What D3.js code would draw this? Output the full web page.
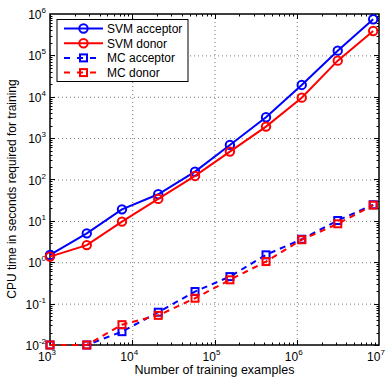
<!DOCTYPE html>
<html>
<head>
<meta charset="utf-8">
<script src="https://cdn.jsdelivr.net/npm/d3@7"></script>
<style>
  body { margin: 0; background: #fff; }
  svg text { font-family: "Liberation Sans", Arial, sans-serif; fill: #000; }
</style>
</head>
<body>
<div id="chart"></div>
<script>
// training set sizes
const trainSizes = [1000, 2800, 7500, 20700, 58000, 154000, 423000, 1150000, 3150000, 8500000];
// CPU seconds
const svmAcceptor = [1.5, 5.0, 19, 44, 155, 685, 3190, 19300, 130000, 745000];
const svmDonor = [1.37, 2.6, 9.6, 34, 122, 473, 1900, 9500, 74500, 389000];
const mcAcceptor = [0.01, 0.01, 0.021, 0.062, 0.196, 0.45, 1.51, 3.6, 10.2, 24.5];
const mcDonor = [0.01, 0.01, 0.031, 0.052, 0.135, 0.376, 1.04, 3.5, 8.5, 24];
const seriesNames = ["SVM acceptor", "SVM donor", "MC acceptor", "MC donor"];
const xTickExp = [3, 4, 5, 6, 7];
const yTickExp = [-2, -1, 0, 1, 2, 3, 4, 5, 6];

const width = 387, height = 380;
const margin = {top: 14, right: 8, bottom: 35, left: 50};

const svg = d3.select("#chart").append("svg")
  .attr("width", width)
  .attr("height", height);

const x = d3.scaleLog().domain([1e3, 1e7]).range([margin.left, width - margin.right]);
const y = d3.scaleLog().domain([1e-2, 1e6]).range([height - margin.bottom, margin.top]);

const x0 = x.range()[0], x1 = x.range()[1];
const y0 = y.range()[0], y1 = y.range()[1];

// grid lines (dotted)
const grid = svg.append("g").attr("stroke", "#777").attr("stroke-width", 1)
  .attr("stroke-dasharray", "1,3");
xTickExp.slice(1, -1).forEach(e => {
  grid.append("line").attr("x1", x(10 ** e) + 0.5).attr("x2", x(10 ** e) + 0.5)
    .attr("y1", y1).attr("y2", y0);
});
yTickExp.slice(1, -1).forEach(e => {
  grid.append("line").attr("y1", y(10 ** e) + 0.5).attr("y2", y(10 ** e) + 0.5)
    .attr("x1", x0).attr("x2", x1);
});

// minor + major ticks, inward on all four sides
const ticks = svg.append("g").attr("stroke", "#000").attr("stroke-width", 1);
const xMinor = [];
for (let e = 3; e < 7; e++) for (let m = 1; m < 10; m++) xMinor.push([m * 10 ** e, m === 1]);
const yMinor = [];
for (let e = -2; e < 6; e++) for (let m = 1; m < 10; m++) yMinor.push([m * 10 ** e, m === 1]);
xMinor.forEach(([v, major]) => {
  const len = major ? 5 : 2.5, px = Math.round(x(v)) + 0.5;
  ticks.append("line").attr("x1", px).attr("x2", px).attr("y1", y0).attr("y2", y0 - len);
  ticks.append("line").attr("x1", px).attr("x2", px).attr("y1", y1).attr("y2", y1 + len);
});
yMinor.forEach(([v, major]) => {
  const len = major ? 5 : 2.5, py = Math.round(y(v)) + 0.5;
  ticks.append("line").attr("y1", py).attr("y2", py).attr("x1", x0).attr("x2", x0 + len);
  ticks.append("line").attr("y1", py).attr("y2", py).attr("x1", x1).attr("x2", x1 - len);
});

// box
svg.append("rect").attr("x", x0).attr("y", y1).attr("width", x1 - x0).attr("height", y0 - y1)
  .attr("fill", "none").attr("stroke", "#000").attr("stroke-width", 1.5);

// tick labels
xTickExp.forEach(e => {
  const t = svg.append("text").attr("x", x(10 ** e) - 3).attr("y", y0 + 16)
    .attr("text-anchor", "middle").attr("font-size", 12);
  t.append("tspan").text("10");
  t.append("tspan").attr("dy", -6).attr("font-size", 8).text(e);
});
yTickExp.forEach(e => {
  const t = svg.append("text").attr("x", x0 - 4).attr("y", y(10 ** e) + 5)
    .attr("text-anchor", "end").attr("font-size", 12);
  t.append("tspan").text("10");
  t.append("tspan").attr("dy", -6).attr("font-size", 8).text(e);
});

// axis titles
svg.append("text").attr("x", (x0 + x1) / 2).attr("y", y0 + 28.5)
  .attr("text-anchor", "middle").attr("font-size", 12.5).text("Number of training examples");
svg.append("text").attr("transform", `translate(16,189) rotate(-90)`)
  .attr("text-anchor", "middle").attr("font-size", 12)
  .text("CPU time in seconds required for training");

const series = [
  {name: seriesNames[0], vals: svmAcceptor, color: "#0000ff", dash: null, marker: "circle"},
  {name: seriesNames[1], vals: svmDonor, color: "#ff0000", dash: null, marker: "circle"},
  {name: seriesNames[2], vals: mcAcceptor, color: "#0000ff", dash: "6,5", marker: "square"},
  {name: seriesNames[3], vals: mcDonor, color: "#ff0000", dash: "6,5", marker: "square"}
];

const line = d3.line().x(d => x(d[0])).y(d => y(d[1]));

function drawMarker(g, type, cx, cy, color) {
  if (type === "circle") {
    g.append("circle").attr("cx", cx).attr("cy", cy).attr("r", 4.2)
      .attr("fill", "none").attr("stroke", color).attr("stroke-width", 2);
  } else {
    g.append("rect").attr("x", cx - 3.5).attr("y", cy - 3.5).attr("width", 7).attr("height", 7)
      .attr("fill", "none").attr("stroke", color).attr("stroke-width", 2);
  }
}

series.forEach(s => {
  const pts = trainSizes.map((t, i) => [t, s.vals[i]]);
  const g = svg.append("g");
  g.append("path").attr("d", line(pts)).attr("fill", "none")
    .attr("stroke", s.color).attr("stroke-width", 2)
    .attr("stroke-dasharray", s.dash);
  pts.forEach(p => drawMarker(g, s.marker, x(p[0]), y(p[1]), s.color));
});

// legend
const lg = svg.append("g");
lg.append("rect").attr("x", 57).attr("y", 19.5).attr("width", 131).attr("height", 62)
  .attr("fill", "#fff").attr("stroke", "#000").attr("stroke-width", 1);
series.forEach((s, i) => {
  const ly = 28.5 + i * 14.7;
  lg.append("line").attr("x1", 64).attr("x2", 103).attr("y1", ly).attr("y2", ly)
    .attr("stroke", s.color).attr("stroke-width", 2)
    .attr("stroke-dasharray", s.dash ? "6,7" : null);
  drawMarker(lg, s.marker, 83.5, ly, s.color);
  lg.append("text").attr("x", 107).attr("y", ly + 4.5).attr("font-size", 12).text(s.name);
});
</script>
</body>
</html>
